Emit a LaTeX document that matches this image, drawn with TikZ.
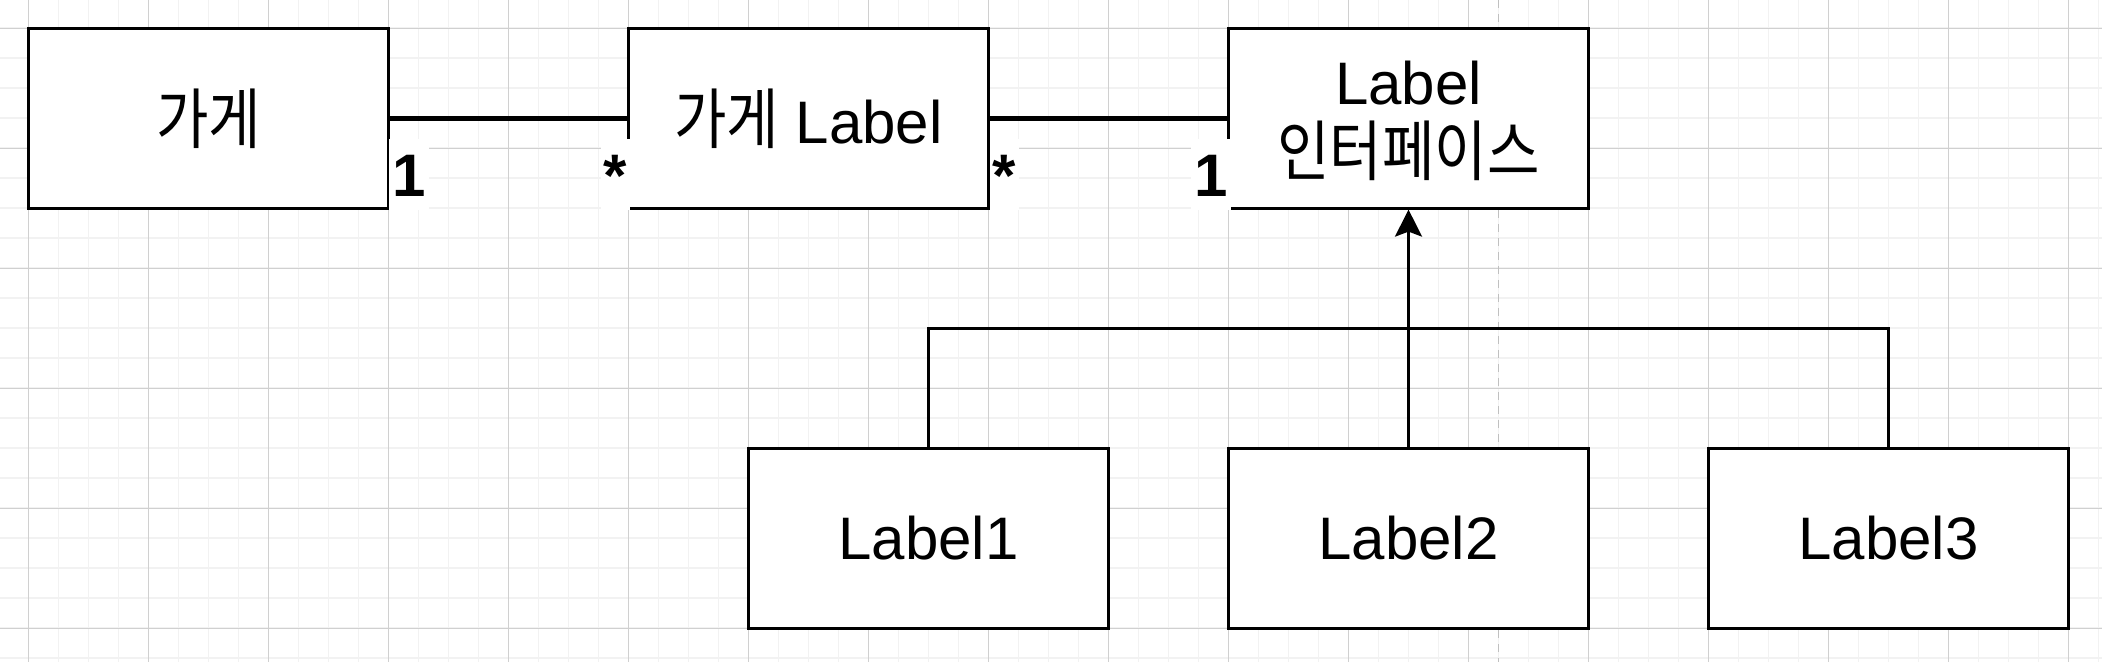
\documentclass[tikz,border=0pt]{standalone}
\usepackage{fontspec}
\setmainfont{Liberation Sans}
\newfontfamily\kr{Noto Sans CJK KR}
\usetikzlibrary{arrows.meta}
\definecolor{gridminor}{HTML}{F2F2F2}
\definecolor{gridmajor}{HTML}{D0D0D0}
\definecolor{pageline}{HTML}{C0C0C0}
\newcommand{\ko}[1]{{\kr\scalebox{0.95}[1.1]{#1}}}
\tikzset{
  umlbox/.style={draw=black, line width=1.3pt, fill=white, minimum width=180pt, minimum height=90pt,
    inner sep=0pt, align=center, font=\fontsize{30}{36}\selectfont},
  boxtext/.style={anchor=base, inner sep=0pt, font=\fontsize{30}{36}\selectfont},
  assoc/.style={draw=black, line width=2.75pt},
  hier/.style={draw=black, line width=1.4pt},
  mult/.style={fill=white, anchor=base, inner xsep=1.5pt, inner ysep=0pt, text height=29pt, text depth=6.5pt,
    font=\fontsize{30}{36}\selectfont\bfseries},
  gminor/.style={draw=gridminor, line width=0.9pt},
  gmajor/.style={draw=gridmajor, line width=0.5pt}
}
\begin{document}
\begin{tikzpicture}[x=0.5pt,y=-0.5pt]
\useasboundingbox (0,0) rectangle (2102,662);
\fill[white] (0,0) rectangle (2102,662);
% grid
\foreach \i in {0,...,69} {\draw[gminor] ({28.5+30*\i},0) -- ({28.5+30*\i},662);}
\foreach \j in {0,...,21} {\draw[gminor] (0,{28.3+30*\j}) -- (2102,{28.3+30*\j});}
\foreach \i in {0,...,17} {\draw[gmajor] ({28.5+120*\i},0) -- ({28.5+120*\i},662);}
\foreach \j in {0,...,5} {\draw[gmajor] (0,{28.3+120*\j}) -- (2102,{28.3+120*\j});}
\draw[pageline, line width=0.6pt, dash pattern=on 4pt off 3pt] (1498.5,0) -- (1498.5,662);
% boxes
\node[umlbox] (A) at (208.5,118.3) {\ko{가게}};
\node[umlbox] (B) at (808.5,118.3) {\ko{가게} Label};
\node[umlbox] (C) at (1408.5,118.3) {};
\node[boxtext] (C1) at (1408.5,105) {Label};
\node[boxtext] (C2) at (1408.5,176) {\ko{인터페이스}};
\node[umlbox] (L1) at (928.5,538.3) {Label1};
\node[umlbox] (L2) at (1408.5,538.3) {Label2};
\node[umlbox] (L3) at (1888.5,538.3) {Label3};
% associations
\draw[assoc] (A.east) -- (B.west);
\draw[assoc] (B.east) -- (C.west);
\node[mult] (m1) at (409,196.7) {1};
\node[mult] (m2) at (615.5,196.7) {*};
\node[mult] (m3) at (1004.5,196.7) {*};
\node[mult] (m4) at (1211,196.7) {1};
% generalization
\coordinate (bar) at (1408.5,328.3);
\draw[hier] (L1.north) |- (bar);
\draw[hier] (L3.north) |- (bar);
\draw[hier, -{Stealth[length=13.5pt, width=13.5pt, inset=2.5pt]}] (L2.north) -- (C.south);
\end{tikzpicture}
\end{document}
